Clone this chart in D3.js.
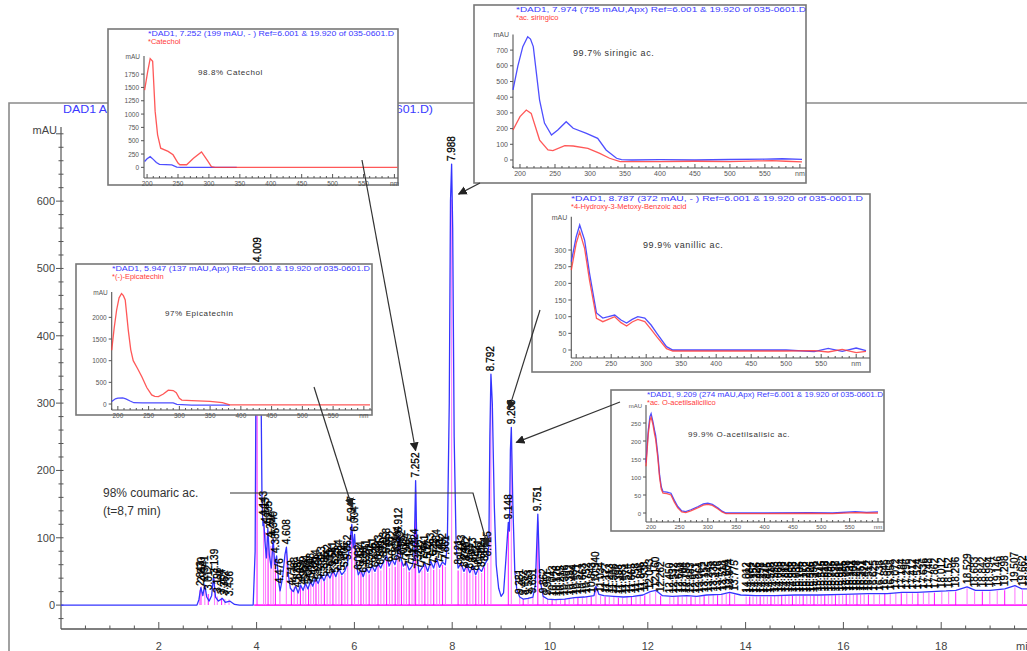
<!DOCTYPE html>
<html>
<head>
<meta charset="utf-8">
<script src="https://cdn.jsdelivr.net/npm/d3@7"></script>
<style>
  body { margin: 0; background: #fff; }
  svg { display: block; }
  text { font-family: "Liberation Sans", Arial, sans-serif; }
</style>
</head>
<body>
<svg id="chart" width="1027" height="651"></svg>
<script>
// ---------- chromatogram (DAD1 A, 280 nm) ----------
const traceTime = [0,2.78,2.82,2.86,2.9,2.94,2.98,3.03,3.08,3.12,3.16,3.22,3.3,3.36,3.45,3.55,3.65,3.93,
  3.97,3.99,4.009,4.05,4.09,4.11,4.13,4.145,4.17,4.2,4.23,4.26,4.3,4.34,4.37,4.41,4.45,4.48,4.53,4.58,4.61,4.65,4.69,
  4.75,4.8,4.85,4.9,4.95,5.0,5.05,5.1,5.15,5.2,5.26,5.32,5.38,5.44,5.5,5.56,5.62,5.68,5.74,5.8,5.86,5.91,5.947,5.975,6.004,
  6.04,6.08,6.13,6.18,6.24,6.3,6.36,6.42,6.48,6.54,6.6,6.66,6.71,6.77,6.83,6.88,6.912,6.95,7.0,7.06,7.12,7.18,7.22,7.252,
  7.28,7.32,7.38,7.44,7.5,7.56,7.62,7.68,7.74,7.8,7.86,7.9,7.94,7.965,7.988,8.01,8.04,8.08,8.12,8.18,8.24,8.3,8.36,8.42,
  8.48,8.54,8.6,8.66,8.725,8.75,8.77,8.792,8.82,8.86,8.9,8.95,9.0,9.05,9.1,9.148,9.17,9.19,9.209,9.24,9.28,9.32,9.38,9.45,
  9.55,9.65,9.7,9.751,9.79,9.86,9.95,10.1,10.3,10.5,10.7,10.9,10.94,11.0,11.1,11.3,11.5,11.7,11.9,12.05,12.16,12.3,12.5,
  12.8,13.0,13.2,13.5,13.674,13.9,14.2,14.6,15.0,15.5,16.0,16.5,16.9,17.2,17.5,17.8,18.1,18.3,18.529,18.7,19.0,19.3,19.507,
  19.65,19.8,20];
const traceMAU = [0,0,8,26,14,30,12,6,14,42,12,6,10,4,6,1,0,0,
  80,380,505,470,330,160,118,128,95,70,113,75,55,98,60,73,35,21,40,75,86,45,25,
  20,28,18,30,22,32,24,35,28,40,32,45,36,48,40,52,42,55,45,50,62,95,120,85,105,
  60,45,52,42,55,48,58,50,62,55,66,73,58,68,60,75,103,70,58,64,52,58,70,185,
  75,48,55,62,50,65,55,70,56,64,60,90,300,600,655,560,250,90,55,62,50,60,48,58,
  45,55,50,60,68,90,250,343,300,150,60,25,13,18,70,123,110,230,264,150,50,24,12,9,
  10,12,30,135,40,13,9,8,9,11,12,14,28,16,14,13,12,13,15,20,22,14,13,
  14,13,15,16,19,15,14,14,15,15,16,17,17,19,19,20,21,22,27,22,22,24,29,
  24,24,25];

// integrated peaks: retention time (min) and apex height (mAU)
const peakRT = [2.843,2.870,2.941,3.012,3.139,3.196,3.284,3.352,3.436,
  4.009,4.143,4.183,4.235,4.292,4.340,4.385,4.476,4.608,
  4.712,4.768,4.835,4.896,4.952,5.004,5.062,5.108,5.165,5.214,5.268,5.323,5.386,5.442,5.503,5.561,5.623,5.684,5.742,5.806,5.862,
  5.947,6.004,6.082,6.134,6.186,6.241,6.302,6.361,6.422,6.483,6.541,6.603,6.658,6.718,6.772,6.834,6.884,6.912,6.962,7.012,7.064,7.121,7.178,7.224,
  7.252,7.321,7.382,7.441,7.502,7.563,7.622,7.684,7.741,7.802,7.861,7.988,
  8.121,8.183,8.244,8.302,8.361,8.423,8.482,8.541,8.602,8.661,8.725,8.792,9.148,9.209,
  9.381,9.452,9.553,9.651,9.751,9.862,
  9.951,10.043,10.126,10.215,10.306,10.392,10.484,10.571,10.663,10.752,10.843,10.940,11.034,11.127,11.213,11.306,11.398,11.483,
  11.574,11.665,11.758,11.846,11.938,12.043,12.160,12.262,12.450,12.532,12.618,12.704,12.795,12.883,12.971,13.064,13.152,13.245,
  13.338,13.426,13.518,13.604,13.674,13.775,14.012,14.084,14.152,14.226,14.298,14.371,14.445,14.518,14.593,14.665,14.738,14.812,
  14.886,14.958,15.032,15.105,15.178,15.252,15.326,15.398,15.472,15.545,15.618,15.692,15.765,15.838,15.911,15.985,16.058,16.131,
  16.204,16.278,16.351,16.424,16.512,16.625,16.738,16.846,16.958,17.072,17.184,17.296,17.412,17.524,17.636,17.748,17.862,18.012,
  18.152,18.296,18.529,18.683,18.842,18.994,19.146,19.298,19.507,19.662,19.815];
const peakMAU = [24,30,32,18,42,14,12,10,9,
  505,128,118,113,96,98,73,28,86,
  25,30,22,31,26,33,27,36,30,41,34,46,38,49,42,53,44,56,47,52,63,
  120,105,48,53,44,56,50,59,52,63,56,67,73,60,69,62,76,103,70,60,65,54,59,72,
  185,50,56,63,52,66,57,71,58,65,62,655,
  56,63,52,61,50,59,47,56,52,61,68,343,123,264,
  12,10,11,13,135,13,
  10,9,9,9,10,10,11,12,12,13,14,30,15,14,13,13,12,12,
  13,13,14,15,16,19,22,15,13,13,14,14,14,13,13,14,15,15,
  16,16,17,18,19,17,14,14,14,14,14,14,14,14,15,15,15,15,
  15,15,15,15,15,15,15,15,16,16,16,16,16,16,16,16,17,17,
  17,17,17,17,17,17,17,18,18,19,19,19,19,19,20,20,20,21,
  21,22,27,22,22,22,23,24,29,24,24];

const yTicks = [0,100,200,300,400,500,600];
const xTicks = [2,4,6,8,10,12,14,16,18];
const chartTitle = "DAD1 A, Sig=280,4 Ref=off (C:\\HPCHEM\\1\\DATA\\BIO\\035-0601.D)";

// ---------- UV spectra (nm, mAU): blue = sample peak, red = library ----------
const catecholNm      = [196,201,205,209,213,217,222,234,242,250,253,264,275,288,298,304,310,605];
const catecholLib     = [1450,1800,2040,1990,1055,610,360,300,235,80,49,49,170,290,120,15,0,0];
const catecholPeakNm  = [196,200,205,210,215,220,230,240,248,255,300,345];
const catecholPeak    = [110,160,200,150,90,55,50,45,5,0,0,0];

const syringicNm      = [190,197,204,211,215,219,228,235,245,254,266,276,295,311,323,338,345,360,400,450,500,550,575,603];
const syringicPeak    = [446,600,722,785,770,722,382,235,159,191,244,202,170,138,64,11,2,0,2,0,3,5,8,4];
const syringicLibNm   = [190,200,209,216,228,240,247,264,276,297,314,328,343,400,450,500,540,560,580,603];
const syringicLib     = [191,276,318,297,127,64,60,91,89,74,42,11,-10,-10,-8,-10,-6,-4,-8,-12];

const vanillicNm      = [193,200,205,212,219,229,238,246,255,264,272,280,288,298,307,315,329,338,400,500,540,560,580,600,614];
const vanillicPeak    = [265,340,375,330,231,111,96,100,105,90,81,92,100,96,75,51,10,0,0,0,-5,5,-4,6,-2];
const vanillicLib     = [240,320,355,305,210,95,85,92,100,82,72,84,92,85,62,40,4,-3,-3,-3,-2,-6,2,-8,-4];

const epicatNm        = [190,194,198,202,206,209,212,217,221,225,232,239,247,255,260,266,274,282,290,295,300,304,320,350,370,382,610];
const epicatLib       = [1240,1750,2170,2450,2550,2500,2400,1700,1250,1000,820,630,380,210,175,170,230,320,310,260,130,90,80,60,30,-20,-20];
const epicatPeakNm    = [190,196,200,208,213,220,226,240,270,290,296,320,350,382];
const epicatPeak      = [60,120,135,140,120,70,30,25,25,25,-10,-25,-25,-25];

const acetylNm        = [191,195,198,200,203,206,208,212,215,218,221,228,235,241,247,254,261,270,283,292,300,308,318,325,332,400,480,520,560,580,600];
const acetylPeak      = [140,230,268,276,255,230,216,160,105,72,59,58,55,35,18,6,4,9,18,25,27,24,14,5,0,0,1,0,4,2,3];
const acetylLib       = [130,220,258,266,248,220,205,150,98,66,55,54,50,30,14,3,1,6,15,22,24,21,11,3,-2,-2,-1,-2,1,0,0];

// ---------- drawing ----------
const svg = d3.select("#chart");
const x = d3.scaleLinear().domain([0, 20]).range([61, 1039]);
const y = d3.scaleLinear().domain([-35.5, 711]).range([629, 126.4]);

// outer frame
svg.append("path").attr("d", "M9,651V103H1027").attr("fill", "none")
  .attr("stroke", "#8a8a8a").attr("stroke-width", 1.6);

// title
svg.append("text").attr("x", 63).attr("y", 113).attr("fill", "#3a3aff")
  .attr("font-size", 11).attr("textLength", 370).attr("lengthAdjust", "spacingAndGlyphs")
  .text(chartTitle);

const axisCol = "#555";
// y axis
svg.append("line").attr("x1", 61).attr("x2", 61).attr("y1", 127).attr("y2", 629)
  .attr("stroke", axisCol).attr("stroke-width", 1.2);
svg.append("g").selectAll("line").data(d3.range(-20, 701, 20)).join("line")
  .attr("x1", d => d % 100 === 0 ? 56 : 58.5).attr("x2", 63.5)
  .attr("y1", d => y(d)).attr("y2", d => y(d))
  .attr("stroke", axisCol).attr("stroke-width", 1);
svg.append("g").selectAll("text").data(yTicks).join("text")
  .attr("x", 55).attr("y", d => y(d) + 4).attr("text-anchor", "end")
  .attr("font-size", 11).attr("fill", "#444").text(d => d);
svg.append("text").attr("x", 57).attr("y", 134).attr("text-anchor", "end")
  .attr("font-size", 11).attr("fill", "#444").text("mAU");

// x axis
svg.append("line").attr("x1", 61).attr("x2", 1027).attr("y1", 629).attr("y2", 629)
  .attr("stroke", axisCol).attr("stroke-width", 1.4);
svg.append("g").selectAll("line").data(d3.range(0.5, 20.01, 0.5)).join("line")
  .attr("x1", d => x(d)).attr("x2", d => x(d))
  .attr("y1", 629).attr("y2", d => d % 2 === 0 ? 622 : 625.5)
  .attr("stroke", axisCol).attr("stroke-width", 1);
svg.append("g").selectAll("text").data(xTicks).join("text")
  .attr("x", d => x(d)).attr("y", 650).attr("text-anchor", "middle")
  .attr("font-size", 11).attr("fill", "#444").text(d => d);
svg.append("text").attr("x", 1016).attr("y", 650).attr("font-size", 11).attr("fill", "#444").text("min");

// integration baseline and peak markers
svg.append("line").attr("x1", x(3.95)).attr("x2", 1027).attr("y1", y(0)).attr("y2", y(0))
  .attr("stroke", "#ff2bff").attr("stroke-width", 1.8);
svg.append("g").selectAll("line").data(peakRT).join("line")
  .attr("x1", d => x(d)).attr("x2", d => x(d))
  .attr("y1", y(0)).attr("y2", (d, i) => y(peakMAU[i] * 0.92))
  .attr("stroke", (d, i) => i % 3 === 0 ? "#ff00ff" : "#ff6cff")
  .attr("stroke-width", 1.1).attr("opacity", 0.85);

// signal trace
const trace = traceTime.map((t, i) => [t, traceMAU[i]]);
svg.append("path").datum(trace)
  .attr("d", d3.line().x(d => x(d[0])).y(d => y(d[1])))
  .attr("fill", "none").attr("stroke", "#3434ff").attr("stroke-width", 1.3)
  .attr("stroke-linejoin", "round");

// retention-time labels
svg.append("g").selectAll("text").data(peakRT).join("text")
  .attr("transform", (d, i) => `translate(${x(d) + 3.5},${y(peakMAU[i]) - 3}) rotate(-90)`)
  .attr("font-size", 10).attr("fill", "#000").attr("stroke", "#000").attr("stroke-width", 0.3)
  .text(d => d.toFixed(3));

// ---------- spectrum insets ----------
function inset(o) {
  const g = svg.append("g");
  const [bx, by, bw, bh] = o.box;
  g.append("rect").attr("x", bx).attr("y", by).attr("width", bw).attr("height", bh)
    .attr("fill", "#fff").attr("stroke", "#777").attr("stroke-width", 1.6);
  const sx = d3.scaleLinear().domain(o.nm).range(o.px);
  const sy = d3.scaleLinear().domain(o.mau).range(o.py);
  const x0 = o.px[0], yb = o.py[0];
  // axes
  g.append("line").attr("x1", x0).attr("x2", x0).attr("y1", yb).attr("y2", o.py[1])
    .attr("stroke", "#555").attr("stroke-width", 1.1);
  g.append("line").attr("x1", x0).attr("x2", bx + bw).attr("y1", yb).attr("y2", yb)
    .attr("stroke", "#555").attr("stroke-width", 1.1);
  g.selectAll(".yt").data(o.yt).join("line")
    .attr("x1", x0 - 3).attr("x2", x0).attr("y1", d => sy(d)).attr("y2", d => sy(d))
    .attr("stroke", "#555");
  g.selectAll(".yl").data(o.yt).join("text")
    .attr("x", x0 - 5).attr("y", d => sy(d) + 2.5).attr("text-anchor", "end")
    .attr("font-size", o.fs).attr("fill", "#555").text(d => d);
  g.append("text").attr("x", x0 - 4).attr("y", o.py[1] + 3).attr("text-anchor", "end")
    .attr("font-size", o.fs).attr("fill", "#555").text("mAU");
  const minor = d3.range(Math.ceil(o.nm[0] / 10) * 10, o.nm[1] + 0.1, 10);
  g.selectAll(".xt").data(minor).join("line")
    .attr("x1", d => sx(d)).attr("x2", d => sx(d))
    .attr("y1", yb).attr("y2", d => d % 50 === 0 ? yb - 4 : yb - 2)
    .attr("stroke", "#555");
  g.selectAll(".xl").data(d3.range(200, 601, 50)).join("text")
    .attr("x", d => sx(d)).attr("y", yb + o.fs + 1).attr("text-anchor", "middle")
    .attr("font-size", o.fs).attr("fill", "#555").text(d => d === 600 ? "nm" : d);
  // headers
  g.append("text").attr("x", o.hx).attr("y", by + 7).attr("font-size", 7.5).attr("fill", "#3a3aff")
    .attr("textLength", o.hw).attr("lengthAdjust", "spacingAndGlyphs").text(o.head);
  g.append("text").attr("x", o.hx).attr("y", by + 15).attr("font-size", 7.5).attr("fill", "#ff3a3a")
    .text(o.lib);
  g.append("text").attr("x", o.tx).attr("y", o.ty).attr("font-size", o.ts).attr("fill", "#333")
    .attr("letter-spacing", 0.6).text(o.note);
  // spectra
  const line = d3.line().x(d => sx(d[0])).y(d => sy(d[1]));
  g.append("path").datum(o.peakNm.map((n, i) => [n, o.peak[i]]))
    .attr("d", line).attr("fill", "none").attr("stroke", "#3b3bff").attr("stroke-width", 1.3).attr("opacity", 0.9);
  g.append("path").datum(o.libNm.map((n, i) => [n, o.lib2[i]]))
    .attr("d", line).attr("fill", "none").attr("stroke", "#ff3b3b").attr("stroke-width", 1.3).attr("opacity", 0.85);
}

inset({ box: [108, 29, 290, 156], nm: [195, 605], px: [144, 397.5], mau: [-200, 2090], py: [178, 56],
  yt: [0, 250, 500, 750, 1000, 1250, 1500, 1750], fs: 6.5,
  hx: 148, hw: 246, head: "*DAD1, 7.252 (199 mAU, - ) Ref=6.001 & 19.920 of 035-0601.D", lib: "*Catechol",
  tx: 198, ty: 75, ts: 8, note: "98.8% Catechol",
  peakNm: catecholPeakNm, peak: catecholPeak, libNm: catecholNm, lib2: catecholLib });

inset({ box: [474, 5, 332, 178], nm: [190, 603], px: [513, 802], mau: [-51, 800], py: [168, 34.4],
  yt: [0, 100, 200, 300, 400, 500, 600, 700], fs: 7,
  hx: 516, hw: 290, head: "*DAD1, 7.974 (755 mAU,Apx) Ref=6.001 & 19.920 of 035-0601.D", lib: "*ac. siringico",
  tx: 573, ty: 56, ts: 9, note: "99.7% siringic ac.",
  peakNm: syringicNm, peak: syringicPeak, libNm: syringicLibNm, lib2: syringicLib });

inset({ box: [76, 264, 296, 151], nm: [190, 610], px: [111.7, 370], mau: [-138, 2585], py: [410, 292],
  yt: [0, 500, 1000, 1500, 2000], fs: 6.5,
  hx: 112, hw: 258, head: "*DAD1, 5.947 (137 mAU,Apx) Ref=6.001 & 19.920 of 035-0601.D", lib: "*(-)-Epicatechin",
  tx: 165, ty: 316, ts: 8, note: "97% Epicatechin",
  peakNm: epicatPeakNm, peak: epicatPeak, libNm: epicatNm, lib2: epicatLib });

inset({ box: [532, 194, 338, 178], nm: [193, 614], px: [571.3, 866], mau: [-24, 400], py: [358, 216.7],
  yt: [0, 50, 100, 150, 200, 250, 300], fs: 7,
  hx: 571, hw: 292, head: "*DAD1, 8.787 (372 mAU, - ) Ref=6.001 & 19.920 of 035-0601.D", lib: "*4-Hydroxy-3-Metoxy-Benzoic acid",
  tx: 643, ty: 248, ts: 9, note: "99.9% vanillic ac.",
  peakNm: vanillicNm, peak: vanillicPeak, libNm: vanillicNm, lib2: vanillicLib });

inset({ box: [611, 390, 273, 141], nm: [191, 600], px: [646, 878], mau: [-25, 300], py: [522, 405],
  yt: [0, 50, 100, 150, 200, 250], fs: 6,
  hx: 647, hw: 236, head: "*DAD1, 9.209 (274 mAU,Apx) Ref=6.001 & 19.920 of 035-0601.D", lib: "*ac. O-acetilsalicilico",
  tx: 688, ty: 437, ts: 8, note: "99.9% O-acetilsalisic ac.",
  peakNm: acetylNm, peak: acetylPeak, libNm: acetylNm, lib2: acetylLib });

// ---------- annotations ----------
const defs = svg.append("defs");
defs.append("marker").attr("id", "head").attr("viewBox", "0 0 10 10").attr("refX", 9).attr("refY", 5)
  .attr("markerWidth", 9).attr("markerHeight", 9).attr("markerUnits", "userSpaceOnUse").attr("orient", "auto")
  .append("path").attr("d", "M0,0L10,5L0,10z").attr("fill", "#222");

// arrows point to a spot next to each identified peak
const arrows = [
  { from: [[362, 160]], rt: 7.252, v: 185, dx: 0, dy: -30 },
  { from: [[314, 387]], rt: 5.947, v: 120, dx: 0, dy: -18 },
  { from: [[480, 183]], rt: 7.988, v: 655, dx: 7, dy: 30 },
  { from: [[540, 310]], rt: 8.792, v: 343, dx: 18, dy: 35 },
  { from: [[620, 402]], rt: 9.209, v: 264, dx: 5, dy: 15 },
  { from: [[230, 493], [473, 493]], rt: 8.725, v: 68, dx: 0, dy: -13 }
];
arrows.forEach(a => {
  const pts = a.from.concat([[x(a.rt) + a.dx, y(a.v) + a.dy]]);
  svg.append("path").attr("d", d3.line()(pts)).attr("fill", "none")
    .attr("stroke", "#333").attr("stroke-width", 1.2).attr("marker-end", "url(#head)");
});

svg.append("text").attr("x", 103).attr("y", 497).attr("font-size", 12).attr("fill", "#333").text("98% coumaric ac.");
svg.append("text").attr("x", 103).attr("y", 515).attr("font-size", 12).attr("fill", "#333").text("(t=8,7 min)");
</script>
</body>
</html>
